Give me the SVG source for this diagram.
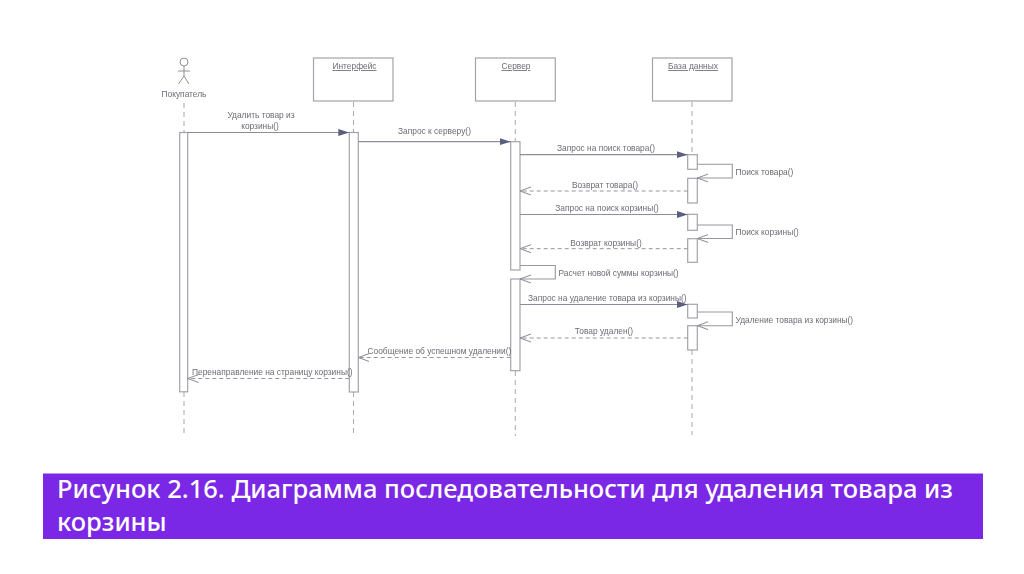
<svg xmlns="http://www.w3.org/2000/svg" width="1024" height="574" viewBox="0 0 1024 574">
<defs>
<marker id="solid" markerUnits="userSpaceOnUse" markerWidth="12" markerHeight="8" refX="11" refY="4" orient="auto"><path d="M0 0.5L11 4L0 7.5Z" fill="#5c5f80"/></marker>
<marker id="open" markerUnits="userSpaceOnUse" markerWidth="12" markerHeight="10" refX="11" refY="5" orient="auto"><path d="M0 1L11 5L0 9" fill="none" stroke="#8a8a96" stroke-width="1"/></marker>
<filter id="soft" x="-2%" y="-2%" width="104%" height="104%"><feGaussianBlur stdDeviation="0.3"/></filter>
</defs>
<style>
.box{fill:#fff;stroke:#a3a3ab;stroke-width:1.2}
.life{fill:none;stroke:#a9a9b0;stroke-width:1;stroke-dasharray:5 4}
.msg{fill:none;stroke:#8b8c9e;stroke-width:1.2;marker-end:url(#solid)}
.ret{fill:none;stroke:#96969f;stroke-width:1;stroke-dasharray:4 3;marker-end:url(#open)}
.self{fill:none;stroke:#97979f;stroke-width:1.1;marker-end:url(#open)}
text{font-family:"Liberation Sans",Arial,sans-serif;font-size:8.4px;fill:#6c6c74}
.m{text-anchor:middle}
.u{text-decoration:underline}
.cap{font-family:"Noto Sans","Open Sans",sans-serif;font-size:25.5px;font-weight:500;fill:#fff}
</style>
<rect width="1024" height="574" fill="#fff"/>
<g filter="url(#soft)">
<g id="lifelines">
<path class="life" d="M184 103V132M184 392V434"/>
<path class="life" d="M353.500 102V132M353.500 392V434"/>
<path class="life" d="M515.300 102V141M515.300 371V436"/>
<path class="life" d="M692 102V154M692 350V435"/>
</g>
<g id="actor-buyer">
<circle cx="184" cy="62" r="4" fill="#fff" stroke="#8e8e96"/>
<path d="M184 66V76M178 71H190M184 76L178.500 84M184 76L189 84" fill="none" stroke="#8e8e96"/>
<text class="m" x="184" y="97">Покупатель</text>
</g>
<g id="node-interface"><rect class="box" x="313.500" y="58" width="79.500" height="43"/><text class="m u" x="354.500" y="69">Интерфейс</text></g>
<g id="node-server"><rect class="box" x="475.500" y="58" width="79.800" height="43"/><text class="m u" x="516" y="69">Сервер</text></g>
<g id="node-db"><rect class="box" x="652.500" y="58" width="79.500" height="43"/><text class="m u" x="693" y="69">База данных</text></g>
<g id="activations">
<rect class="box" x="179.700" y="132.500" width="8" height="259.300"/>
<rect class="box" x="349.300" y="132.500" width="9" height="259.500"/>
<rect class="box" x="510.700" y="141.700" width="9.300" height="128.300"/>
<rect class="box" x="510.700" y="279" width="9.300" height="91.700"/>
<rect class="box" x="687.700" y="154.700" width="9.600" height="14.600"/>
<rect class="box" x="687.700" y="178.300" width="9.600" height="24.700"/>
<rect class="box" x="687.700" y="214.300" width="9.600" height="16"/>
<rect class="box" x="687.700" y="238.700" width="9.600" height="23.600"/>
<rect class="box" x="687.700" y="304.300" width="9.600" height="13.700"/>
<rect class="box" x="687.700" y="325.700" width="9.600" height="24.300"/>
</g>
<g id="connectors">
<path class="msg" d="M187.700 132.500H349.300"/>
<path class="msg" d="M358.300 141.700H510.700"/>
<path class="msg" d="M520 154.700H687.700"/>
<path class="self" d="M697.300 164.300H732.300V178H697.300"/>
<path class="ret" d="M687.700 191H520"/>
<path class="msg" d="M520 214.500H687.700"/>
<path class="self" d="M697.300 225H732.300V238.500H697.300"/>
<path class="ret" d="M687.700 248.700H520"/>
<path class="self" d="M520 265.500H555.300V279H520"/>
<path class="msg" d="M520 304.500H687.700"/>
<path class="self" d="M697.300 312H732.300V325.700H697.300"/>
<path class="ret" d="M687.700 338H520"/>
<path class="ret" d="M510.700 357.500H358.300"/>
<path class="ret" d="M349.300 378.500H187.700"/>
</g>
<g id="labels">
<text class="m" x="261" y="117.500">Удалить товар из</text>
<text class="m" x="260" y="129">корзины()</text>
<text class="m" x="434.500" y="134">Запрос к серверу()</text>
<text class="m" x="606" y="151">Запрос на поиск товара()</text>
<text class="m" x="605" y="187.500">Возврат товара()</text>
<text class="m" x="607" y="211">Запрос на поиск корзины()</text>
<text class="m" x="606" y="245.500">Возврат корзины()</text>
<text x="735.500" y="175">Поиск товара()</text>
<text x="735.500" y="235">Поиск корзины()</text>
<text x="558.500" y="276">Расчет новой суммы корзины()</text>
<text x="528" y="300.500">Запрос на удаление товара из корзины()</text>
<text x="735.500" y="322.500">Удаление товара из корзины()</text>
<text class="m" x="604" y="334">Товар удален()</text>
<text x="367.500" y="353.500">Сообщение об успешном удалении()</text>
<text x="192" y="374.500">Перенаправление на страницу корзины()</text>
</g>
</g>
<g id="caption">
<rect x="43" y="473.500" width="940" height="65.500" fill="#7a27e6"/>
<text class="cap" x="57" y="498">Рисунок 2.16. Диаграмма последовательности для удаления товара из</text>
<text class="cap" x="57" y="531">корзины</text>
</g>
</svg>
